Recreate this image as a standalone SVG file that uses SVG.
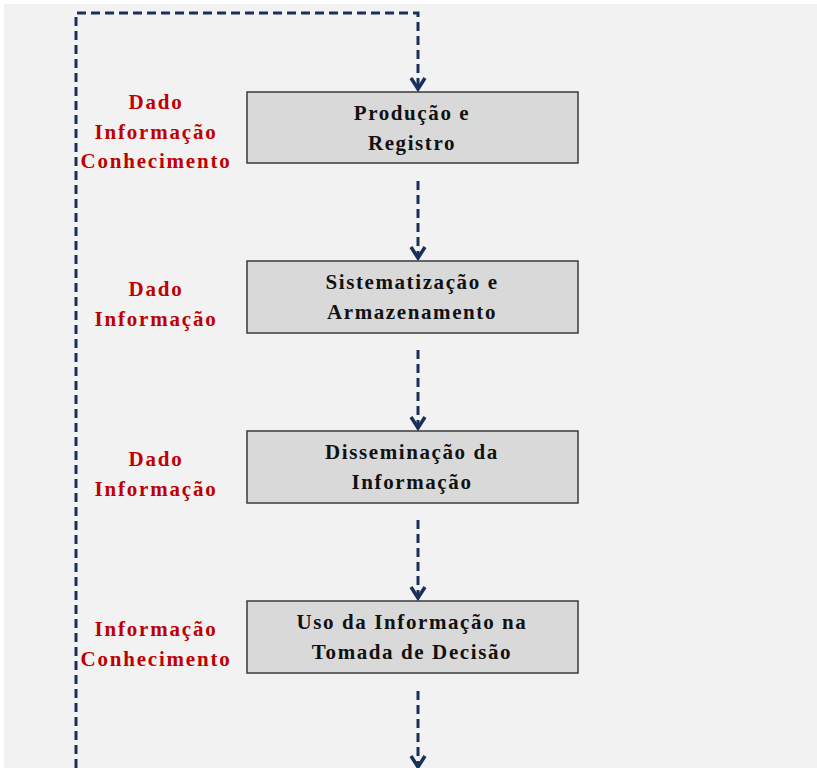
<svg xmlns="http://www.w3.org/2000/svg" width="817" height="768" viewBox="0 0 817 768">
<style>
.box{fill:#d9d9d9;stroke:#3a3a3a;stroke-width:1.5}
.bt{font-family:"Liberation Serif",serif;font-size:21px;font-weight:bold;fill:#111;text-anchor:middle;letter-spacing:1.6px}
.lb{font-family:"Liberation Serif",serif;font-size:21px;font-weight:bold;fill:#c00000;text-anchor:middle;letter-spacing:1.8px}
.dl{fill:none;stroke:#1a2f5a;stroke-width:3;stroke-dasharray:9 5}
.ah{fill:none;stroke:#1a2f5a;stroke-width:3.5}
</style>
<rect x="0" y="0" width="817" height="768" fill="#ffffff"/>
<rect x="4" y="4" width="813" height="764" fill="#f2f2f2"/>
<g id="connectors">
<path class="dl" d="M76,768 V13 H418 V86"/>
<path class="ah" d="M411,78 L418,89 L425,78"/>
<path class="dl" d="M418,181 V255"/>
<path class="ah" d="M411,247 L418,258 L425,247"/>
<path class="dl" d="M418,350 V425"/>
<path class="ah" d="M411,417 L418,428 L425,417"/>
<path class="dl" d="M418,520 V595"/>
<path class="ah" d="M411,587 L418,598 L425,587"/>
<path class="dl" d="M418,691 V765"/>
<path class="ah" d="M411,756 L418,767 L425,756"/>
</g>
<g id="node1">
<rect class="box" x="247" y="92" width="331" height="71"/>
<text class="bt" x="412" y="120">Produção e</text>
<text class="bt" x="412" y="150">Registro</text>
</g>
<g id="label1">
<text class="lb" x="156" y="109">Dado</text>
<text class="lb" x="156" y="139">Informação</text>
<text class="lb" x="156" y="168">Conhecimento</text>
</g>
<g id="node2">
<rect class="box" x="247" y="261" width="331" height="72"/>
<text class="bt" x="412" y="289">Sistematização e</text>
<text class="bt" x="412" y="319">Armazenamento</text>
</g>
<g id="label2">
<text class="lb" x="156" y="296">Dado</text>
<text class="lb" x="156" y="326">Informação</text>
</g>
<g id="node3">
<rect class="box" x="247" y="431" width="331" height="72"/>
<text class="bt" x="412" y="459">Disseminação da</text>
<text class="bt" x="412" y="489">Informação</text>
</g>
<g id="label3">
<text class="lb" x="156" y="466">Dado</text>
<text class="lb" x="156" y="496">Informação</text>
</g>
<g id="node4">
<rect class="box" x="247" y="601" width="331" height="72"/>
<text class="bt" x="412" y="629">Uso da Informação na</text>
<text class="bt" x="412" y="659">Tomada de Decisão</text>
</g>
<g id="label4">
<text class="lb" x="156" y="636">Informação</text>
<text class="lb" x="156" y="666">Conhecimento</text>
</g>
</svg>
